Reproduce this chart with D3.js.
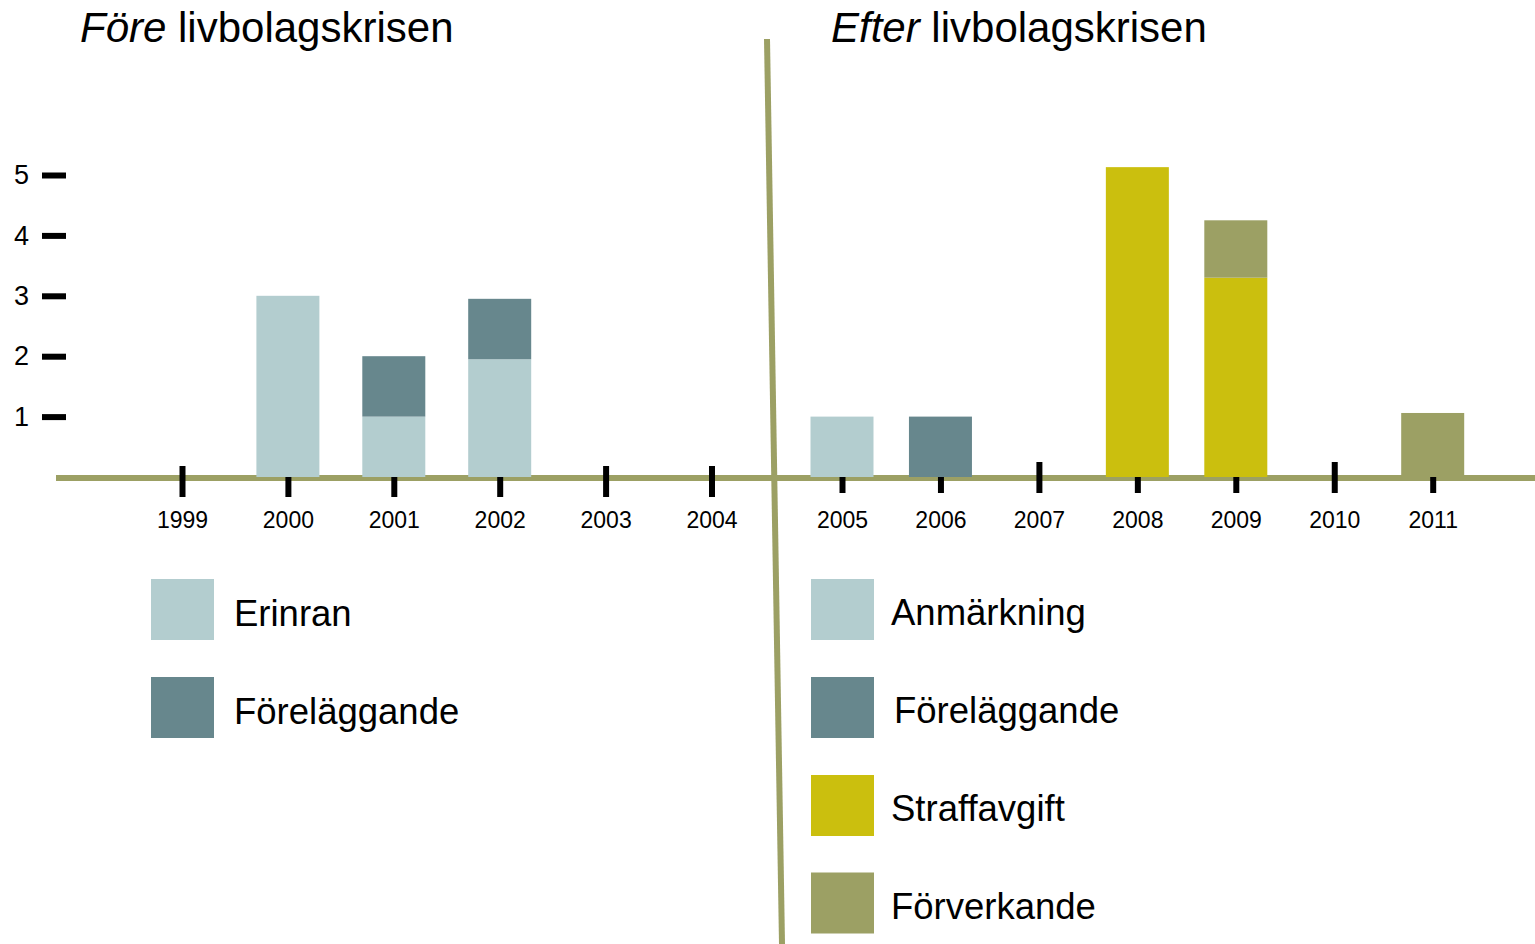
<!DOCTYPE html>
<html>
<head>
<meta charset="utf-8">
<script src="https://cdn.jsdelivr.net/npm/d3@7"></script>
<style>
  html, body { margin: 0; padding: 0; background: #ffffff; }
  svg { display: block; font-family: "Liberation Sans", Arial, sans-serif; }
</style>
</head>
<body>
<svg id="chart" width="1535" height="944"></svg>
<script>
// ---- Data ----
const yearsBefore = ["1999", "2000", "2001", "2002", "2003", "2004"];
const yearsAfter  = ["2005", "2006", "2007", "2008", "2009", "2010", "2011"];

// Före livbolagskrisen
const erinran           = [0, 3, 1, 1.95, 0, 0];
const forelaggandeFore  = [0, 0, 1, 1, 0, 0];

// Efter livbolagskrisen
const anmarkning        = [1, 0, 0, 0, 0, 0, 0];
const forelaggandeEfter = [0, 1, 0, 0, 0, 0, 0];
const straffavgift      = [0, 0, 0, 5.13, 3.3, 0, 0];
const forverkande       = [0, 0, 0, 0, 0.95, 0, 1.06];

const yTicks = [1, 2, 3, 4, 5];

const seriesFore  = ["Erinran", "Föreläggande"];
const seriesEfter = ["Anmärkning", "Föreläggande", "Straffavgift", "Förverkande"];

const C_LIGHT = "#b3cdcf", C_DARK = "#67878d", C_YELLOW = "#cbbf0e", C_OLIVE = "#9ca064";
const colorsFore  = [C_LIGHT, C_DARK];
const colorsEfter = [C_LIGHT, C_DARK, C_YELLOW, C_OLIVE];

// ---- Build tables ----
const tableFore = yearsBefore.map((y, i) => ({year: y, "Erinran": erinran[i], "Föreläggande": forelaggandeFore[i]}));
const tableEfter = yearsAfter.map((y, i) => ({
  year: y, "Anmärkning": anmarkning[i], "Föreläggande": forelaggandeEfter[i],
  "Straffavgift": straffavgift[i], "Förverkande": forverkande[i]
}));

const svg = d3.select("#chart");

// ---- Scales ----
const y = d3.scaleLinear().domain([0, 5]).range([477, 175]);
const xFore  = d3.scalePoint().domain(yearsBefore).range([182, 711.5]);
const xEfter = d3.scalePoint().domain(yearsAfter).range([842, 1432.7]);
const barW = 63;

// ---- Titles ----
function title(x, italicWord, rest) {
  const t = svg.append("text").attr("x", x).attr("y", 41.5)
    .attr("font-size", 42).attr("fill", "#000");
  t.append("tspan").attr("font-style", "italic").text(italicWord);
  t.append("tspan").text(" " + rest);
}
title(80, "Före", "livbolagskrisen");
title(831, "Efter", "livbolagskrisen");

// ---- Baseline (olive) ----
svg.append("line")
  .attr("x1", 56).attr("x2", 1535).attr("y1", 478).attr("y2", 478)
  .attr("stroke", C_OLIVE).attr("stroke-width", 6);

// ---- Y axis ----
const yAxis = svg.append("g").attr("transform", "translate(66,0)")
  .call(d3.axisLeft(y).tickValues(yTicks).tickSize(24).tickPadding(13).tickFormat(d3.format("d")));
yAxis.select(".domain").remove();
yAxis.selectAll(".tick line").attr("stroke", "#000").attr("stroke-width", 6);
yAxis.selectAll(".tick text").attr("font-size", 27).attr("fill", "#000")
  .attr("font-family", "Liberation Sans, Arial, sans-serif");

// ---- X axes ----
function xAxis(scale, top, padding) {
  const g = svg.append("g").attr("transform", `translate(0,${top})`)
    .call(d3.axisBottom(scale).tickSize(31).tickPadding(padding));
  g.select(".domain").remove();
  g.selectAll(".tick line").attr("stroke", "#000").attr("stroke-width", 6);
  g.selectAll(".tick text").attr("font-size", 23).attr("fill", "#000")
    .attr("font-family", "Liberation Sans, Arial, sans-serif");
  return g;
}
xAxis(xFore, 466, 14.7);
xAxis(xEfter, 462, 18.7);

// ---- Bars ----
function drawBars(table, keys, colors, xs) {
  const stacked = d3.stack().keys(keys)(table);
  svg.append("g").selectAll("g").data(stacked).join("g")
    .attr("fill", (d, i) => colors[i])
    .selectAll("rect").data(d => d.filter(e => e[1] - e[0] > 0)).join("rect")
    .attr("x", d => xs(d.data.year) - barW / 2)
    .attr("width", barW)
    .attr("y", d => y(d[1]))
    .attr("height", d => y(d[0]) - y(d[1]));
}
drawBars(tableFore, seriesFore, colorsFore, xFore);
drawBars(tableEfter, seriesEfter, colorsEfter, xEfter);

// ---- Divider line ----
svg.append("line")
  .attr("x1", 767).attr("y1", 39).attr("x2", 782).attr("y2", 944)
  .attr("stroke", C_OLIVE).attr("stroke-width", 6);

// ---- Legends ----
function legend(items, colors, sx, tx, rowsY, baseOff) {
  const g = svg.append("g");
  items.forEach((name, i) => {
    g.append("rect").attr("x", sx).attr("y", rowsY[i]).attr("width", 63).attr("height", 61)
      .attr("fill", colors[i]);
    g.append("text").attr("x", tx[i]).attr("y", rowsY[i] + baseOff)
      .attr("font-size", 36.5).attr("fill", "#000").text(name);
  });
}
legend(seriesFore, colorsFore, 151, [234, 234], [579, 677], 47);
legend(seriesEfter, colorsEfter, 811, [891, 894, 891, 891], [579, 677, 775, 872.5], 46);
</script>
</body>
</html>
